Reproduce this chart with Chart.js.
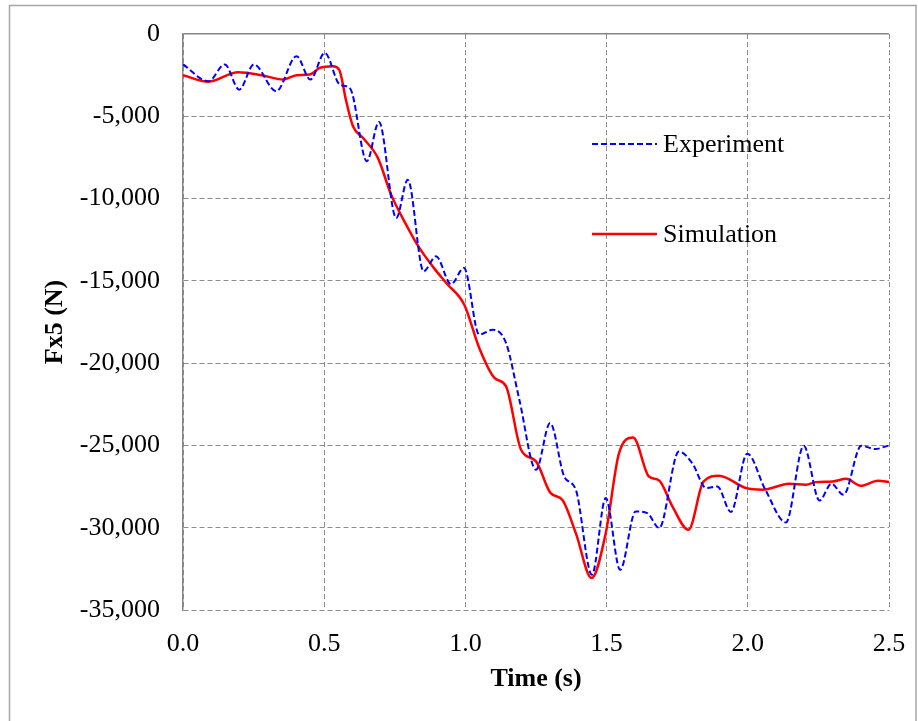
<!DOCTYPE html>
<html>
<head>
<meta charset="utf-8">
<script src="https://cdn.jsdelivr.net/npm/chart.js@4/dist/chart.umd.min.js"></script>
<style>
  html, body { margin: 0; padding: 0; background: #fff; }
  #wrap { width: 918px; height: 721px; }
</style>
</head>
<body>
<div id="wrap"><canvas id="c" width="918" height="721"></canvas></div>
<script>
// Experiment (dashed blue) — time in s, force in N
const expTime = [0.00, 0.09, 0.148, 0.199, 0.251, 0.33, 0.402, 0.451, 0.502, 0.555, 0.592, 0.651, 0.694, 0.755, 0.796, 0.852, 0.896, 0.949, 0.995, 1.049, 1.097, 1.144, 1.191, 1.25, 1.30, 1.35, 1.391, 1.448, 1.497, 1.548, 1.603, 1.644, 1.686, 1.756, 1.803, 1.853, 1.892, 1.94, 1.998, 2.062, 2.135, 2.198, 2.254, 2.296, 2.339, 2.402, 2.451, 2.50];
const expForce = [-1850, -2870, -1850, -3380, -1850, -3480, -1350, -2770, -1150, -3070, -3320, -7730, -5340, -11180, -8850, -14420, -13510, -15200, -14220, -18270, -17970, -18780, -22220, -26480, -23640, -26890, -27690, -32860, -28200, -32560, -29010, -29110, -30020, -25370, -26070, -27590, -27490, -29040, -25500, -27690, -29680, -25020, -28350, -27330, -28000, -25020, -25220, -25000];

// Simulation (solid red)
const simTime = [0.00, 0.09, 0.195, 0.278, 0.354, 0.402, 0.449, 0.484, 0.531, 0.553, 0.578, 0.602, 0.637, 0.69, 0.737, 0.79, 0.837, 0.884, 0.932, 0.996, 1.049, 1.103, 1.144, 1.197, 1.25, 1.302, 1.343, 1.391, 1.447, 1.497, 1.544, 1.594, 1.65, 1.686, 1.733, 1.79, 1.843, 1.898, 1.993, 2.052, 2.147, 2.206, 2.241, 2.30, 2.348, 2.40, 2.461, 2.50];
const simForce = [-2500, -2900, -2320, -2500, -2770, -2500, -2460, -2060, -1960, -2160, -4090, -5610, -6310, -7530, -9760, -11580, -13000, -14120, -15130, -16450, -19080, -20900, -21410, -25260, -25970, -27900, -28300, -30330, -33060, -30330, -25470, -24520, -26890, -27130, -28710, -30130, -27200, -26840, -27590, -27690, -27330, -27390, -27230, -27190, -27030, -27450, -27150, -27230];

const seriesNames = ['Experiment', 'Simulation'];
const xTitle = 'Time (s)';
const yTitle = 'Fx5 (N)';

const GRID = '#8c8c8c';
const AXIS = '#868686';
const FONT = '"Liberation Serif", "Times New Roman", serif';

function pts(ts, vs) {
  return ts.map((t, i) => ({ x: t, y: vs[i] }));
}

// outer frame like the Excel chart border
const framePlugin = {
  id: 'frame',
  beforeDraw(chart) {
    const ctx = chart.ctx;
    ctx.save();
    ctx.fillStyle = '#fff';
    ctx.fillRect(0, 0, chart.width, chart.height);
    ctx.strokeStyle = '#a6a6a6';
    ctx.lineWidth = 1.5;
    ctx.strokeRect(9.5, 5.5, 906.5, 730);
    ctx.restore();
  }
};

// legend sits inside the plot, two rows stacked
const legendPlugin = {
  id: 'inlineLegend',
  afterDatasetsDraw(chart) {
    const ctx = chart.ctx;
    const rows = [144, 234];
    ctx.save();
    chart.data.datasets.forEach((ds, i) => {
      const y = rows[i];
      ctx.beginPath();
      ctx.strokeStyle = ds.borderColor;
      ctx.lineWidth = ds.borderWidth;
      ctx.setLineDash(ds.borderDash || []);
      ctx.moveTo(592, y);
      ctx.lineTo(657, y);
      ctx.stroke();
      ctx.setLineDash([]);
      ctx.fillStyle = '#000';
      ctx.font = '26px ' + FONT;
      ctx.textBaseline = 'alphabetic';
      ctx.textAlign = 'left';
      ctx.fillText(ds.label, 663, y + 7.7);
    });
    ctx.restore();
  }
};

new Chart(document.getElementById('c'), {
  type: 'line',
  data: {
    datasets: [
      {
        label: seriesNames[0],
        data: pts(expTime, expForce),
        borderColor: '#0000ff',
        borderWidth: 2,
        borderDash: [6, 3],
        pointRadius: 0,
        cubicInterpolationMode: 'monotone',
        fill: false
      },
      {
        label: seriesNames[1],
        data: pts(simTime, simForce),
        borderColor: '#ff0000',
        borderWidth: 2.5,
        pointRadius: 0,
        cubicInterpolationMode: 'monotone',
        fill: false
      }
    ]
  },
  options: {
    responsive: false,
    animation: false,
    layout: { padding: { left: 35, right: 29, top: 34, bottom: 20 } },
    plugins: { legend: { display: false }, tooltip: { enabled: false } },
    scales: {
      x: {
        type: 'linear',
        min: 0, max: 2.5,
        afterFit(s) { s.height = 91; s.paddingLeft = 0; s.paddingRight = 0; },
        ticks: {
          stepSize: 0.5,
          padding: 19,
          color: '#000',
          font: { family: FONT, size: 26 },
          callback: v => v.toFixed(1)
        },
        grid: { color: GRID, lineWidth: 1, drawTicks: false },
        border: { display: false, dash: [5, 3] },
        title: {
          display: true, text: xTitle, color: '#000',
          font: { family: FONT, size: 26, weight: 'bold' },
          padding: { top: 0, bottom: 6 }
        }
      },
      y: {
        min: -35000, max: 0,
        afterFit(s) { s.width = 148; s.paddingTop = 0; s.paddingBottom = 0; },
        ticks: {
          stepSize: 5000,
          padding: 23,
          color: '#000',
          font: { family: FONT, size: 26 },
          callback: v => v.toLocaleString('en-US')
        },
        grid: {
          color: c => (c.tick && c.tick.value === 0 ? AXIS : GRID),
          lineWidth: c => (c.tick && c.tick.value === 0 ? 1.5 : 1),
          drawTicks: false
        },
        border: {
          display: true, color: AXIS, width: 1.5,
          dash: c => (c.tick && c.tick.value === 0 ? [] : [5, 3])
        },
        title: {
          display: true, text: yTitle, color: '#000',
          font: { family: FONT, size: 26, weight: 'bold' },
          padding: { top: 5, bottom: 0 }
        }
      }
    }
  },
  plugins: [framePlugin, legendPlugin]
});
</script>
</body>
</html>
